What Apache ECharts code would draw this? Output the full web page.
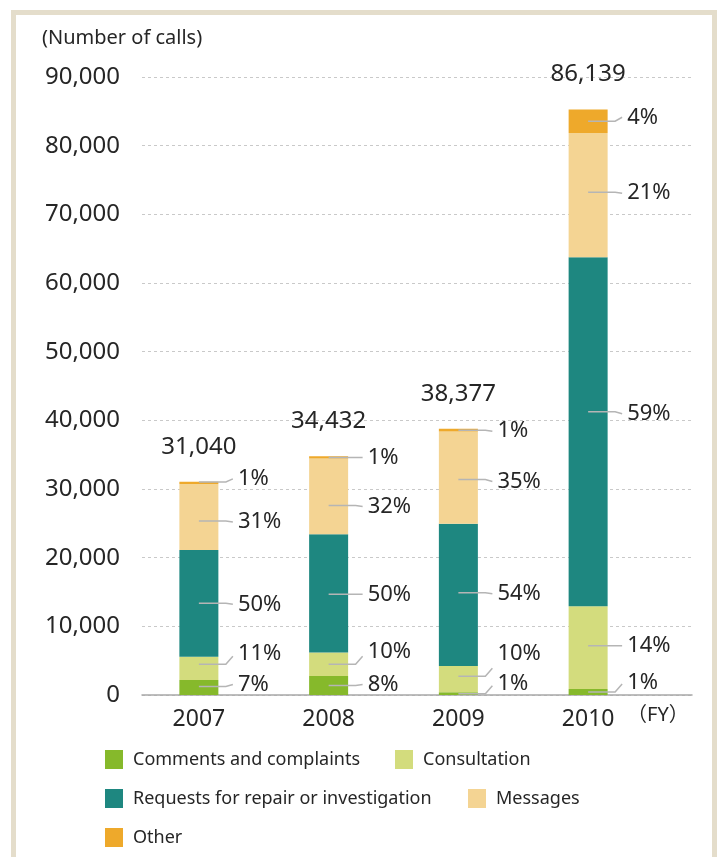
<!DOCTYPE html>
<html>
<head>
<meta charset="utf-8">
<script src="https://cdn.jsdelivr.net/npm/echarts@6/dist/echarts.min.js"></script>
<style>
  html, body { margin: 0; padding: 0; background: #ffffff; }
  #chart { width: 717px; height: 857px; }
</style>
</head>
<body>
<div id="chart"></div>
<script>
// ---- data ----
const years = ['2007', '2008', '2009', '2010'];
const totals = [31040, 34432, 38377, 86139];
const categories = [
  'Comments and complaints',
  'Consultation',
  'Requests for repair or investigation',
  'Messages',
  'Other'
];
// share of each kind of call in a year's total, percent
const sharesComments     = [7, 8, 1, 1];
const sharesConsultation = [11, 10, 10, 14];
const sharesRequests     = [50, 50, 54, 59];
const sharesMessages     = [31, 32, 35, 21];
const sharesOther        = [1, 1, 1, 4];
const yMax = 90000;
const yStep = 10000;
const unitText = '(Number of calls)';
const periodText = '（FY）';

// ---- styling ----
const FONT = '"Noto Sans", "Noto Sans CJK JP", sans-serif';
const TEXT = '#262626';
const colors = ['#86b92b', '#d3dc7d', '#1e8780', '#f4d493', '#eea92b'];
const BAR_W = 39;
// leader-line / label vertical nudges in px: [line, text] per category, per year
const labelNudge = [
  [[-1, -3], [0, -1], [0, -10], [0, -9]],
  [[-4, -15], [0, -13], [-3, -25], [-2, -2]],
  [[0, 1], [1, 1], [-2, -1], [-20, -18]],
  [[4, 5], [9, 10], [2, 4], [-3, -2]],
  [[-1, -4], [0, 0], [0, 1], [0, -4]]
];

const shares = [sharesComments, sharesConsultation, sharesRequests, sharesMessages, sharesOther];
// calls per segment, derived from each year's total and the stated share
const segments = shares.map(s => s.map((p, i) => totals[i] * p / 100));

// label anchors: [yearIndex, segment mid value, categoryIndex, share]
const labelItems = [];
years.forEach((y, i) => {
  let base = 0;
  segments.forEach((seg, c) => {
    labelItems.push([i, base + seg[i] / 2, c, shares[c][i]]);
    base += seg[i];
  });
});

const fmt = v => Number(v).toLocaleString('en-US');

function renderShareLabel(params, api) {
  const i = api.value(0);
  const c = api.value(2);
  const p = api.coord([i, api.value(1)]);
  const nudge = labelNudge[c][i];
  const cx = p[0];
  const ly = p[1] + nudge[0];
  const ty = p[1] + nudge[1];
  const rise = Math.max(-8, Math.min(8, ty - ly));
  return {
    type: 'group',
    children: [
      {
        type: 'polyline',
        shape: { points: [[cx, ly], [cx + 27, ly], [cx + 34, ly + rise]] },
        style: { stroke: '#b5b5b5', lineWidth: 1.5, fill: 'none' }
      },
      {
        type: 'text',
        style: {
          text: api.value(3) + '%',
          x: cx + 39, y: ty,
          align: 'left', verticalAlign: 'middle',
          font: '22px ' + FONT,
          fill: TEXT
        }
      }
    ]
  };
}

const barSeries = categories.map((name, c) => ({
  name: name,
  type: 'bar',
  stack: 'calls',
  xAxisIndex: 1,
  yAxisIndex: 1,
  barWidth: BAR_W,
  data: segments[c],
  itemStyle: { color: colors[c] },
  emphasis: { disabled: true },
  label: c === categories.length - 1 ? {
    show: true,
    position: 'top',
    distance: 23,
    formatter: p => fmt(totals[p.dataIndex]),
    fontFamily: FONT,
    fontSize: 24,
    color: TEXT
  } : { show: false }
}));

const legendLayout = [
  { left: 100, top: 745 },
  { left: 390, top: 745 },
  { left: 100, top: 784 },
  { left: 463, top: 784 },
  { left: 100, top: 823 }
];

const chart = echarts.init(document.getElementById('chart'), null, { renderer: 'canvas' });
chart.setOption({
  animation: false,
  backgroundColor: '#ffffff',
  graphic: [
    {
      type: 'rect',
      shape: { x: 13.5, y: 12.5, width: 701, height: 900 },
      style: { fill: 'none', stroke: '#e4ddcb', lineWidth: 5 },
      silent: true
    },
    {
      type: 'text',
      left: 42, top: 28,
      style: { text: unitText, font: '20px ' + FONT, fill: TEXT }
    },
    {
      type: 'text',
      left: 627, top: 705,
      style: { text: periodText, font: '20px ' + FONT, fill: TEXT }
    }
  ],
  legend: categories.map((name, c) => ({
    data: [name],
    left: legendLayout[c].left,
    top: legendLayout[c].top,
    itemWidth: 18,
    itemHeight: 19,
    icon: 'rect',
    selectedMode: false,
    textStyle: { fontFamily: FONT, fontSize: 18, color: TEXT, padding: [0, 0, 0, 5] }
  })),
  grid: [
    { left: 142, right: 25, top: 77, bottom: 162 },
    { left: 134, width: 519, top: 77, bottom: 162 }
  ],
  xAxis: [
    {
      gridIndex: 0, type: 'value', min: 0, max: 1,
      axisLine: { show: true, lineStyle: { color: '#a8a8a8', width: 1.5 } },
      axisTick: { show: false }, axisLabel: { show: false }, splitLine: { show: false }
    },
    {
      gridIndex: 1, type: 'category', data: years,
      axisLine: { show: false }, axisTick: { show: false },
      axisLabel: { fontFamily: FONT, fontSize: 23, color: TEXT, margin: 13 }
    }
  ],
  yAxis: [
    {
      gridIndex: 0, type: 'value', min: 0, max: yMax, interval: yStep,
      axisLine: { show: false }, axisTick: { show: false },
      axisLabel: { fontFamily: FONT, fontSize: 24, color: TEXT, margin: 22, formatter: fmt },
      splitLine: { show: true, lineStyle: { color: '#c9c9c9', width: 1, type: [3, 3] } }
    },
    {
      gridIndex: 1, type: 'value', min: 0, max: yMax, interval: yStep, show: false,
      splitLine: { show: false }
    }
  ],
  series: barSeries.concat([
    {
      type: 'custom',
      name: 'shares',
      xAxisIndex: 1,
      yAxisIndex: 1,
      clip: false,
      z: 5,
      silent: true,
      encode: { x: 0, y: 1 },
      data: labelItems,
      renderItem: renderShareLabel
    }
  ])
});
</script>
</body>
</html>
